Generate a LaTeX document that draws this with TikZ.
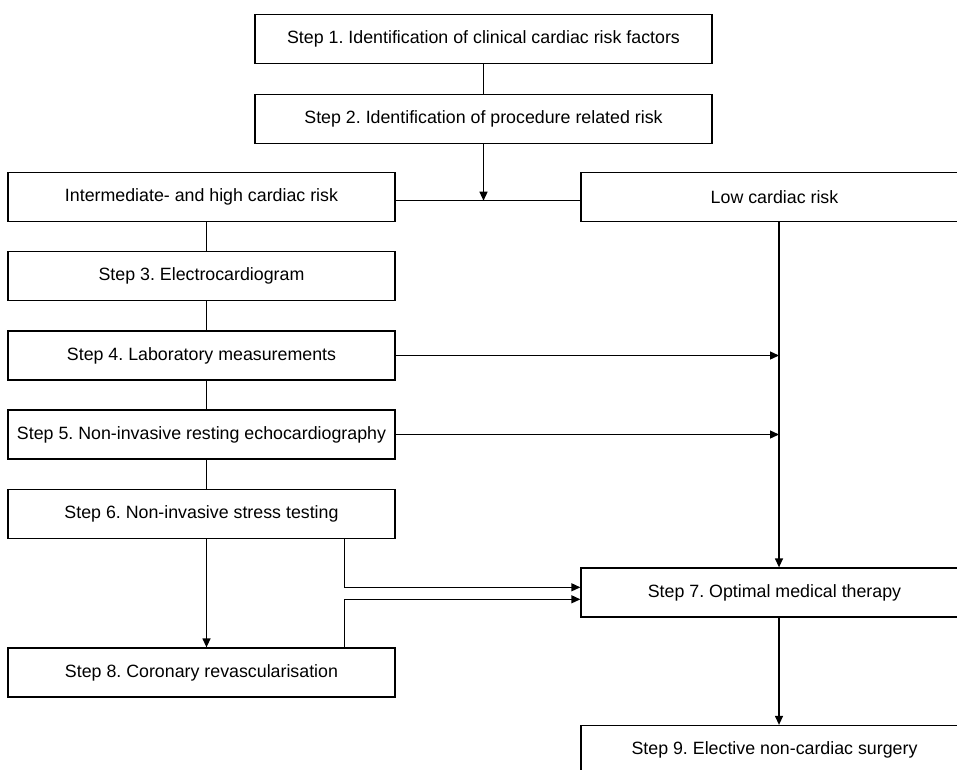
\documentclass[tikz,border=0pt]{standalone}
\usepackage{fontspec}
\setmainfont{Liberation Sans}
\usetikzlibrary{arrows.meta}
\frenchspacing

\begin{document}
\begin{tikzpicture}[x=1pt, y=-1pt, line width=1.3pt,
    >={Triangle[length=9pt,width=8pt]},
    stepbox/.style={draw, minimum height=49pt, inner sep=0pt,
        font=\fontsize{17.8}{20}\selectfont}]
\useasboundingbox (0,0) rectangle (957,769);

\node[stepbox, minimum width=457pt] (s1) at (483.5, 39) {Step 1. Identification of clinical cardiac risk factors};
\node[stepbox, minimum width=457pt] (s2) at (483.5, 119) {Step 2. Identification of procedure related risk};

\foreach \name/\y/\txt in {risk/197/{Intermediate- and high cardiac risk},
	s3/276/{Step 3. Electrocardiogram}, s4/355.5/{Step 4. Laboratory measurements},
	s5/434.5/{Step 5. Non-invasive resting echocardiography},
	s6/514/{Step 6. Non-invasive stress testing},
	s8/672.5/{Step 8. Coronary revascularisation}} {
    \node[stepbox, minimum width=387pt] (\name) at (201.5, \y) {\txt};
}
\node[stepbox, minimum width=387pt] (low) at (774.5, 197) {Low cardiac risk};
\node[stepbox, minimum width=387pt] (s7) at (774.5, 592.5) {Step 7. Optimal medical therapy};
\node[stepbox, minimum width=387pt] (s9) at (774.5, 750) {Step 9. Elective non-cardiac surgery};

\coordinate (join) at (483.5, 200.7);
\coordinate (col) at (206.5, 0);
\coordinate (rail) at (779, 0);
\coordinate (drop) at (344.5, 587.3);
\coordinate (rise) at (344.5, 599.3);

\draw (s1) -- (s2);
\draw[->] (s2) -- (join);
\draw (risk.east |- join) -- (low.west |- join);

\foreach \a/\b in {risk/s3, s3/s4, s4/s5, s5/s6} {
    \draw (\a.south -| col) -- (\b.north -| col);
}
\draw[->] (s6.south -| col) -- (s8.north -| col);

\draw[->] (low.south -| rail) -- (s7.north -| rail);
\draw[->] (s4.east) -- (s4.east -| rail);
\draw[->] (s5.east) -- (s5.east -| rail);
\draw[->] (s7.south -| rail) -- (s9.north -| rail);

\draw[->] (s6.south -| drop) |- (s7.west |- drop);
\draw[->] (s8.north -| rise) |- (s7.west |- rise);
\end{tikzpicture}
\end{document}
